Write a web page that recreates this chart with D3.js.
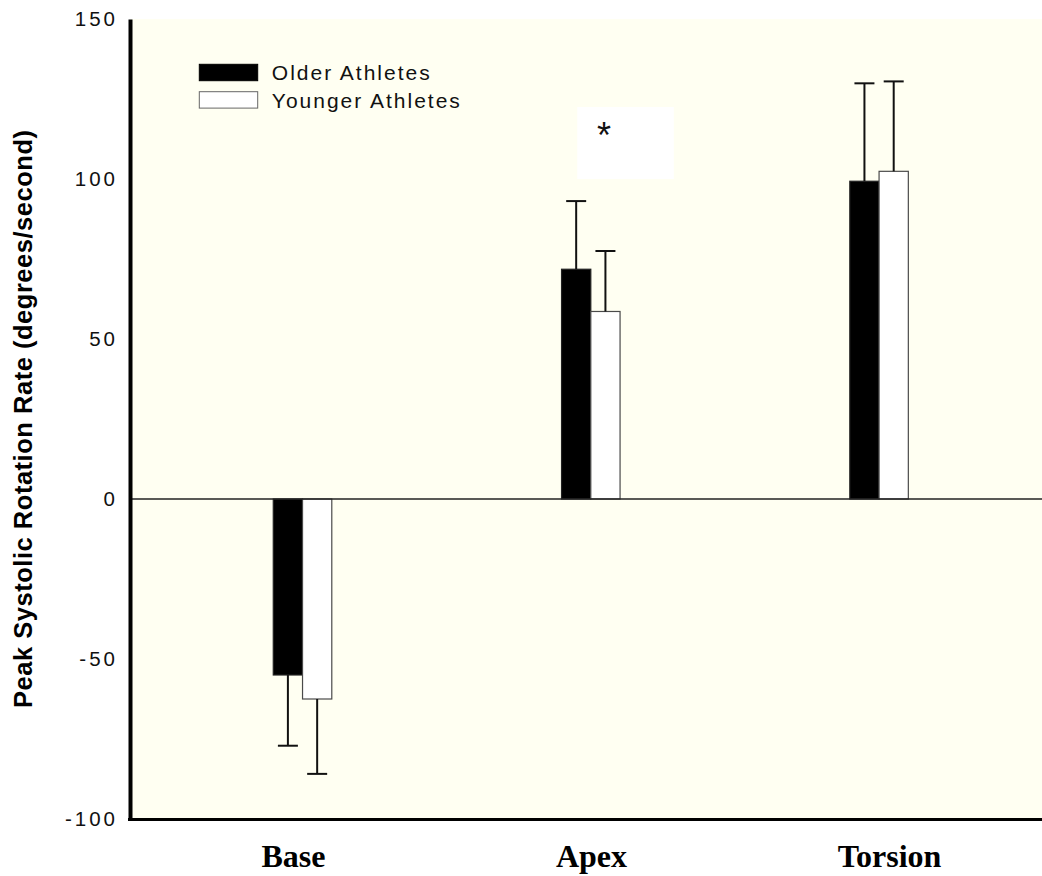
<!DOCTYPE html>
<html>
<head>
<meta charset="utf-8">
<script src="https://cdn.jsdelivr.net/npm/d3@7"></script>
<style>
  html, body { margin: 0; padding: 0; background: #ffffff; }
  svg { display: block; }
</style>
</head>
<body>
<svg id="chart" width="1042" height="876"></svg>
<script>
// Peak systolic rotation rate by region, older vs younger athletes (mean ± SD)
const categories = ["Base", "Apex", "Torsion"];
const seriesNames = ["Older Athletes", "Younger Athletes"];
const olderMean = [-55.0, 71.8, 99.3];
const youngerMean = [-62.5, 58.6, 102.4];
const olderSD = [22.1, 21.3, 30.6];
const youngerSD = [23.4, 18.9, 28.1];
const yTicks = [-100, -50, 0, 50, 100, 150];
const yTitle = "Peak Systolic Rotation Rate (degrees/second)";
// significance marker: category and the value span of its label box
const sigCategory = "Apex";
const sigBox = [100, 122.5];

const plot = { left: 130, right: 1042, top: 19, bottom: 819 };
const sansFont = "'Liberation Sans', Arial, sans-serif";
const serifFont = "'Liberation Serif', 'Times New Roman', serif";

const svg = d3.select("#chart");

const y = d3.scaleLinear().domain([-100, 150]).range([plot.bottom, plot.top]);

const x = d3.scaleBand()
  .domain(categories)
  .range([plot.left, 1051.6])
  .paddingInner(0.797)
  .paddingOuter(0.497);

const xs = d3.scaleBand().domain(seriesNames).range([0, x.bandwidth()]);

// category labels sit on their own, slightly wider spacing
const xLabel = d3.scalePoint().domain(categories).range([293, 889]);

const rows = categories.map((c, i) => ({
  category: c,
  values: [
    { series: seriesNames[0], mean: olderMean[i], sd: olderSD[i] },
    { series: seriesNames[1], mean: youngerMean[i], sd: youngerSD[i] }
  ]
}));

const fills = { "Older Athletes": "#000000", "Younger Athletes": "#ffffff" };
const strokes = { "Older Athletes": "#222222", "Younger Athletes": "#4a4a4a" };

// plot background
svg.append("rect")
  .attr("x", plot.left).attr("y", plot.top)
  .attr("width", plot.right - plot.left).attr("height", plot.bottom - plot.top)
  .attr("fill", "#fffff2");

// significance label box
const apexStart = x(sigCategory);
svg.append("rect")
  .attr("x", apexStart + 15.7)
  .attr("y", y(sigBox[1]))
  .attr("width", 96.6)
  .attr("height", y(sigBox[0]) - y(sigBox[1]))
  .attr("fill", "#ffffff");
svg.append("text")
  .attr("x", apexStart + 42.5)
  .attr("y", y(sigBox[1]) + 41)
  .attr("text-anchor", "middle")
  .attr("font-family", sansFont)
  .attr("font-size", 36)
  .attr("fill", "#111")
  .text("*");

// bars
const groups = svg.append("g").selectAll("g")
  .data(rows).join("g")
  .attr("transform", d => `translate(${x(d.category)},0)`);

groups.selectAll("rect")
  .data(d => d.values).join("rect")
  .attr("x", d => xs(d.series))
  .attr("y", d => y(Math.max(0, d.mean)))
  .attr("width", xs.bandwidth())
  .attr("height", d => Math.abs(y(d.mean) - y(0)))
  .attr("fill", d => fills[d.series])
  .attr("stroke", d => strokes[d.series])
  .attr("stroke-width", 1.2);

// error bars, drawn outward from the bar end
const capHalf = 10;
const err = groups.selectAll("g.err")
  .data(d => d.values).join("g")
  .attr("class", "err")
  .attr("stroke", "#111")
  .attr("stroke-width", 2);

err.append("line")
  .attr("x1", d => xs(d.series) + xs.bandwidth() / 2)
  .attr("x2", d => xs(d.series) + xs.bandwidth() / 2)
  .attr("y1", d => y(d.mean))
  .attr("y2", d => y(d.mean + Math.sign(d.mean) * d.sd));

err.append("line")
  .attr("x1", d => xs(d.series) + xs.bandwidth() / 2 - capHalf)
  .attr("x2", d => xs(d.series) + xs.bandwidth() / 2 + capHalf)
  .attr("y1", d => y(d.mean + Math.sign(d.mean) * d.sd))
  .attr("y2", d => y(d.mean + Math.sign(d.mean) * d.sd));

// zero reference line
svg.append("line")
  .attr("x1", plot.left).attr("x2", plot.right)
  .attr("y1", y(0)).attr("y2", y(0))
  .attr("stroke", "#222").attr("stroke-width", 1.5);

// left axis
const tickSpacing = 3;
const yAxis = svg.append("g")
  .attr("transform", `translate(${plot.left},0)`)
  .call(d3.axisLeft(y).tickValues(yTicks).tickSize(0).tickSizeOuter(0).tickFormat(d => String(d)));
yAxis.select(".domain").attr("stroke", "#000").attr("stroke-width", 4);
yAxis.selectAll(".tick text")
  .attr("font-family", sansFont)
  .attr("font-size", 20.5)
  .attr("letter-spacing", tickSpacing)
  .attr("fill", "#111")
  .attr("x", -15 + tickSpacing);

// bottom axis line
svg.append("line")
  .attr("x1", plot.left - 2).attr("x2", plot.right)
  .attr("y1", plot.bottom + 0.5).attr("y2", plot.bottom + 0.5)
  .attr("stroke", "#000").attr("stroke-width", 3);

// category labels
const xAxis = svg.append("g")
  .attr("transform", `translate(0,${plot.bottom})`)
  .call(d3.axisBottom(xLabel).tickSize(0).tickPadding(0));
xAxis.select(".domain").remove();
xAxis.selectAll(".tick text")
  .attr("dy", null)
  .attr("y", 48)
  .attr("font-family", serifFont)
  .attr("font-weight", "bold")
  .attr("font-size", 32)
  .attr("fill", "#000");

// y-axis title
svg.append("text")
  .attr("transform", `translate(32.3,${(130 + 708) / 2}) rotate(-90)`)
  .attr("text-anchor", "middle")
  .attr("font-family", sansFont)
  .attr("font-weight", "bold")
  .attr("font-size", 25.5)
  .attr("textLength", 578)
  .attr("lengthAdjust", "spacing")
  .attr("fill", "#000")
  .text(yTitle);

// legend
const legend = svg.append("g").attr("transform", "translate(199.3,64.3)");
const legendItems = legend.selectAll("g")
  .data(seriesNames).join("g")
  .attr("transform", (d, i) => `translate(0,${i * 27.4})`);
legendItems.append("rect")
  .attr("width", 58.4).attr("height", 16.4)
  .attr("fill", d => fills[d])
  .attr("stroke", d => d === seriesNames[0] ? "#000" : "#666")
  .attr("stroke-width", 1);
legendItems.append("text")
  .attr("x", 72.5)
  .attr("y", 15.8)
  .attr("font-family", sansFont)
  .attr("font-size", 21)
  .attr("letter-spacing", 2)
  .attr("fill", "#111")
  .text(d => d);
</script>
</body>
</html>
